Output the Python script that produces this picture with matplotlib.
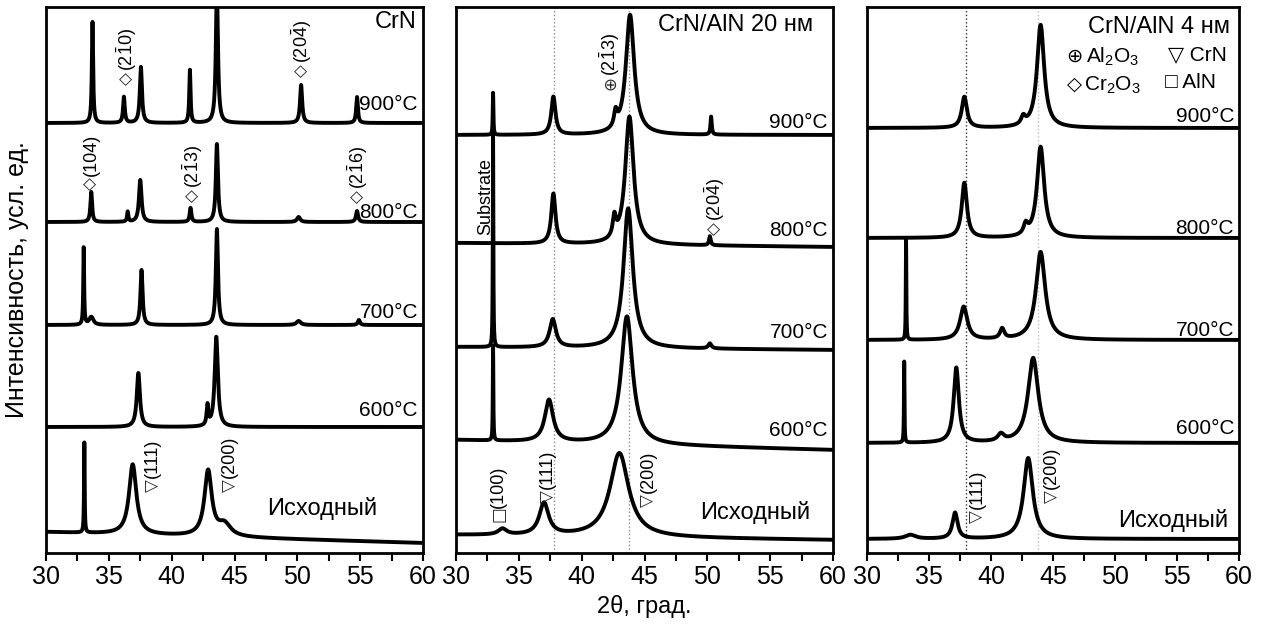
import matplotlib
matplotlib.use("Agg")
import matplotlib.pyplot as plt
from matplotlib.ticker import MultipleLocator
import numpy as np

plt.rcParams["font.family"] = ["Liberation Sans", "DejaVu Sans"]
plt.rcParams["mathtext.fontset"] = "custom"
plt.rcParams["mathtext.rm"] = "Liberation Sans"
plt.rcParams["mathtext.it"] = "Liberation Sans:italic"
plt.rcParams["mathtext.bf"] = "Liberation Sans:bold"
plt.rcParams["mathtext.default"] = "regular"

TWO_THETA = np.linspace(30.0, 60.0, 6001)
CURVE_LABELS = ["900°C", "800°C", "700°C", "600°C", "Исходный"]

# --- CrN ---  (baseline at 30° and 60°, offset units)
CRN_BASELINE = [(430, 430), (331, 331), (228, 228), (126, 126), (21, 10)]
CRN_PEAK_POS = [
    [33.7, 36.2, 37.55, 41.45, 43.6, 50.3, 54.75],
    [33.6, 36.5, 37.5, 41.5, 43.6, 50.1, 54.75],
    [33.0, 33.6, 37.6, 43.6, 50.1, 54.9],
    [37.35, 42.85, 43.55],
    [33.05, 36.9, 42.9, 44.2],
]
CRN_PEAK_HEIGHT = [
    [101, 26, 56, 53, 135, 38, 26],
    [30, 10, 42, 14, 78, 5, 11],
    [77, 8, 55, 96, 4, 5],
    [54, 20, 90],
    [90, 70, 65, 12],
]
CRN_PEAK_WIDTH = [
    [0.06, 0.08, 0.1, 0.06, 0.1, 0.1, 0.08],
    [0.08, 0.06, 0.12, 0.08, 0.1, 0.15, 0.1],
    [0.04, 0.2, 0.1, 0.1, 0.2, 0.1],
    [0.15, 0.08, 0.15],
    [0.03, 0.35, 0.35, 0.6],
]

# --- CrN/AlN 20 nm ---
ALN20_BASELINE = [(418, 418), (310, 306), (206, 203), (113, 103), (18, 13)]
ALN20_PEAK_POS = [
    [32.95, 37.75, 42.7, 43.85, 50.3],
    [37.75, 42.6, 43.8, 50.2],
    [32.95, 37.7, 43.7, 50.2],
    [32.95, 37.4, 43.6],
    [33.7, 37.0, 43.0],
]
ALN20_PEAK_HEIGHT = [
    [42, 38, 15, 120, 18],
    [50, 20, 128, 9],
    [212, 28, 140, 5],
    [95, 42, 128],
    [6, 32, 84],
]
ALN20_PEAK_WIDTH = [
    [0.03, 0.2, 0.15, 0.4, 0.06],
    [0.2, 0.15, 0.4, 0.08],
    [0.025, 0.3, 0.45, 0.15],
    [0.025, 0.4, 0.55],
    [0.4, 0.45, 0.9],
]

# --- CrN/AlN 4 nm ---
ALN4_BASELINE = [(425, 425), (315, 315), (213, 213), (110, 110), (14, 14)]
ALN4_PEAK_POS = [
    [37.85, 42.6, 44.0],
    [37.85, 42.8, 44.0],
    [33.15, 37.8, 40.9, 44.0],
    [33.0, 37.2, 40.8, 43.4],
    [33.5, 37.1, 43.0],
]
ALN4_PEAK_HEIGHT = [
    [31, 8, 103],
    [55, 10, 91],
    [100, 33, 10, 88],
    [81, 75, 7, 85],
    [4, 26, 81],
]
ALN4_PEAK_WIDTH = [
    [0.25, 0.2, 0.35],
    [0.25, 0.2, 0.35],
    [0.025, 0.35, 0.2, 0.45],
    [0.025, 0.25, 0.3, 0.5],
    [0.5, 0.25, 0.45],
]


def pattern(baseline, positions, heights, widths):
    x = TWO_THETA
    y = baseline[0] + (baseline[1] - baseline[0]) * (x - x[0]) / (x[-1] - x[0])
    for c, h, w in zip(positions, heights, widths):
        y = y + h / (1.0 + ((x - c) / w) ** 2)
    return y


def setup_axes(ax):
    ax.set_xlim(30, 60)
    ax.set_ylim(0, 546)
    ax.set_yticks([])
    ax.xaxis.set_major_locator(MultipleLocator(5))
    ax.xaxis.set_minor_locator(MultipleLocator(2.5))
    ax.tick_params(axis="x", which="both", direction="out", length=6, width=1.5,
                   labelsize=18, pad=3)
    for spine in ax.spines.values():
        spine.set_linewidth(2.0)


def draw_patterns(ax, baselines, positions, heights, widths, label_ys, init_x, init_y):
    for i, label in enumerate(CURVE_LABELS):
        y = pattern(baselines[i], positions[i], heights[i], widths[i])
        ax.plot(TWO_THETA, y, color="black", linewidth=2.8, solid_joinstyle="round")
        if i < 4:
            ax.text(59.6, label_ys[i], label, ha="right", va="center", fontsize=15)
        else:
            ax.text(init_x, init_y, label, ha="center", va="center", fontsize=17)


def hkl(ax, x, y, symbol, text, size=13):
    # symbol at the bottom, Miller indices stacked above it (y units are pixels)
    ax.text(x, y, symbol, rotation=90, ha="center", va="bottom", fontsize=size - 1,
            family="DejaVu Sans", color="0.15")
    ax.text(x, y + 14, text, rotation=90, ha="center", va="bottom", fontsize=size)


fig = plt.figure(figsize=(12.71, 6.24), dpi=100)
ax1 = fig.add_axes([46 / 1271, 71 / 624, 377 / 1271, 546 / 624])
ax2 = fig.add_axes([456 / 1271, 71 / 624, 377 / 1271, 546 / 624])
ax3 = fig.add_axes([867 / 1271, 71 / 624, 372 / 1271, 546 / 624])

# panel 1: CrN
setup_axes(ax1)
draw_patterns(ax1, CRN_BASELINE, CRN_PEAK_POS, CRN_PEAK_HEIGHT, CRN_PEAK_WIDTH,
              [448, 340, 241, 143], 52.0, 45)
ax1.text(59.5, 531, "CrN", ha="right", va="center", fontsize=17)
hkl(ax1, 36.4, 468, "◇", r"$(2\bar{1}0)$")
hkl(ax1, 50.35, 476, "◇", r"$(20\bar{4})$")
hkl(ax1, 33.6, 363, "◇", "(104)")
hkl(ax1, 41.7, 351, "◇", r"$(2\bar{1}3)$")
hkl(ax1, 54.8, 350, "◇", r"$(2\bar{1}6)$")
hkl(ax1, 38.5, 61, "▽", "(111)")
hkl(ax1, 44.6, 61, "▽", "(200)")
ax1.set_ylabel("Интенсивность, усл. ед.", fontsize=18, labelpad=12)

# panel 2: CrN/AlN 20 nm
setup_axes(ax2)
for xv in (37.8, 43.8):
    ax2.axvline(xv, color="0.55", linestyle=":", linewidth=1.0, zorder=0)
draw_patterns(ax2, ALN20_BASELINE, ALN20_PEAK_POS, ALN20_PEAK_HEIGHT, ALN20_PEAK_WIDTH,
              [431, 323, 221, 123], 53.8, 40)
ax2.text(58.4, 528, "CrN/AlN 20 нм", ha="right", va="center", fontsize=17)
hkl(ax2, 42.25, 463, "⊕", r"$(2\bar{1}3)$")
ax2.text(32.35, 318, "Substrate", rotation=90, ha="center", va="bottom", fontsize=13)
hkl(ax2, 50.6, 318, "◇", r"$(20\bar{4})$")
hkl(ax2, 33.35, 31, "□", "(100)")
hkl(ax2, 37.3, 50, "▽", "(111)")
hkl(ax2, 45.3, 46, "▽", "(200)")
ax2.set_xlabel("2θ, град.", fontsize=17, labelpad=4)

# panel 3: CrN/AlN 4 nm
setup_axes(ax3)
ax3.axvline(38.0, color="0.2", linestyle=":", linewidth=1.0, zorder=0)
ax3.axvline(43.8, color="0.75", linestyle=":", linewidth=1.0, zorder=0)
draw_patterns(ax3, ALN4_BASELINE, ALN4_PEAK_POS, ALN4_PEAK_HEIGHT, ALN4_PEAK_WIDTH,
              [436, 325, 223, 125], 54.7, 33)
ax3.text(59.3, 526, "CrN/AlN 4 нм", ha="right", va="center", fontsize=17)
ax3.text(46.1, 497, "⊕", ha="left", va="center", fontsize=14, family="DejaVu Sans")
ax3.text(47.7, 496, r"$Al_2O_3$", ha="left", va="center", fontsize=15)
ax3.text(54.3, 498, "▽ CrN", ha="left", va="center", fontsize=15)
ax3.text(46.1, 469, "◇", ha="left", va="center", fontsize=14, family="DejaVu Sans")
ax3.text(47.5, 468, r"$Cr_2O_3$", ha="left", va="center", fontsize=15)
ax3.text(54.0, 471, "□ AlN", ha="left", va="center", fontsize=15)
hkl(ax3, 38.9, 30, "▽", "(111)")
hkl(ax3, 44.9, 50, "▽", "(200)")

fig.savefig("out.png", dpi=100)
